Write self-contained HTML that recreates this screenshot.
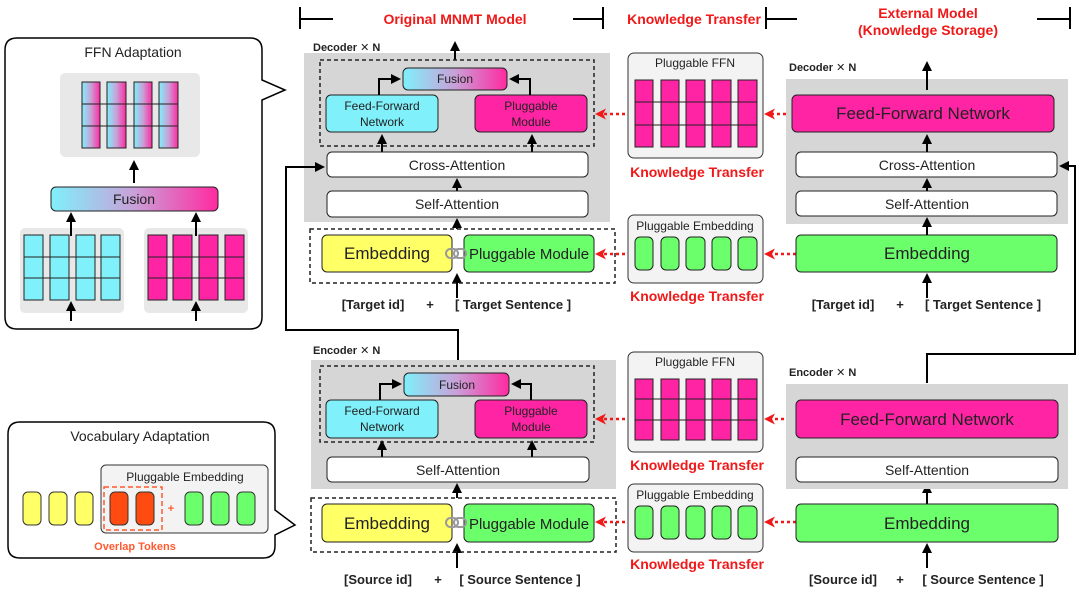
<!DOCTYPE html>
<html><head><meta charset="utf-8"><style>
html,body{margin:0;padding:0;background:#fff;}
svg{display:block;font-family:"Liberation Sans","DejaVu Sans",sans-serif;}
.t{font-size:14px;fill:#222;text-anchor:middle;}
.s{font-size:12px;fill:#222;text-anchor:middle;}
.b{font-size:13px;font-weight:bold;fill:#222;text-anchor:middle;}
.r{font-size:14px;font-weight:bold;fill:#f01818;text-anchor:middle;}
.lab{font-size:11px;font-weight:bold;fill:#222;}
.big{font-size:17px;fill:#222;text-anchor:middle;}
</style></head><body>
<svg width="1080" height="589" viewBox="0 0 1080 589" xmlns="http://www.w3.org/2000/svg">
<defs>
<marker id="a" markerWidth="10" markerHeight="10" refX="7" refY="5" orient="auto" markerUnits="userSpaceOnUse"><path d="M0,0 L10,5 L0,10 z" fill="#000"/></marker>
<marker id="ra" markerWidth="11" markerHeight="11" refX="8" refY="5.5" orient="auto" markerUnits="userSpaceOnUse"><path d="M0,0 L11,5.5 L0,11 L3,5.5 z" fill="#f01818"/></marker>
<linearGradient id="g" x1="0" x2="1"><stop offset="0" stop-color="#7ff0fb"/><stop offset="0.5" stop-color="#c9a0d8"/><stop offset="1" stop-color="#ff2aa0"/></linearGradient>
</defs>

<g stroke="#000" stroke-width="2" fill="none">
<path d="M300,7V29M300,19H333"/><path d="M573,19H603M603,7V29"/>
<path d="M766,7V29M766,19H797"/><path d="M1037,19H1070M1070,7V29"/>
</g>
<text class="r" x="455" y="24">Original MNMT Model</text>
<text class="r" x="694" y="24">Knowledge Transfer</text>
<text class="r" x="928" y="18">External Model</text>
<text class="r" x="928" y="35">(Knowledge Storage)</text>

<path d="M17,38 H250 Q262,38 262,50 V80 L285,90 L262,100 V317 Q262,329 250,329 H17 Q5,329 5,317 V50 Q5,38 17,38 z" fill="#fff" stroke="#000" stroke-width="1.5"/>
<text class="t" x="133" y="57" style="font-size:14px">FFN Adaptation</text>
<rect x="60" y="73" width="140" height="84" rx="5" fill="#e8e8e8"/>
<g stroke="#222" stroke-width="1">
<rect x="82" y="82" width="18" height="66" fill="url(#g)"/><rect x="107" y="82" width="19" height="66" fill="url(#g)"/><rect x="134" y="82" width="18" height="66" fill="url(#g)"/><rect x="159" y="82" width="19" height="66" fill="url(#g)"/>
<path d="M82,104H178M82,126H178" />
</g>
<path d="M134,183V163" stroke="#000" stroke-width="2" marker-end="url(#a)"/>
<rect x="51" y="187" width="167" height="24" rx="5" fill="url(#g)" stroke="#222"/>
<text class="t" x="134" y="204">Fusion</text>
<rect x="20" y="228" width="104" height="85" rx="5" fill="#e8e8e8"/>
<rect x="144" y="228" width="104" height="85" rx="5" fill="#e8e8e8"/>
<g stroke="#222" stroke-width="1" fill="#80f0fb">
<rect x="24" y="235" width="19" height="65"/><rect x="50" y="235" width="19" height="65"/><rect x="76" y="235" width="19" height="65"/><rect x="101" y="235" width="19" height="65"/>
<path d="M24,257H120M24,278H120"/>
</g>
<g stroke="#222" stroke-width="1" fill="#ff24a4">
<rect x="148" y="235" width="19" height="65"/><rect x="173" y="235" width="19" height="65"/><rect x="199" y="235" width="19" height="65"/><rect x="225" y="235" width="19" height="65"/>
<path d="M148,257H244M148,278H244"/>
</g>
<g stroke="#000" stroke-width="2">
<path d="M71,236V215" marker-end="url(#a)"/><path d="M196,236V215" marker-end="url(#a)"/>
<path d="M71,321V304" marker-end="url(#a)"/><path d="M196,321V304" marker-end="url(#a)"/>
</g>

<path d="M20,422 H263 Q275,422 275,434 V510 L295,525 L275,535 V546 Q275,558 263,558 H20 Q8,558 8,546 V434 Q8,422 20,422 z" fill="#fff" stroke="#000" stroke-width="1.5"/>
<text class="t" x="140" y="441" style="font-size:14px">Vocabulary Adaptation</text>
<rect x="101" y="465" width="167" height="68" rx="5" fill="#f3f3f3" stroke="#333"/>
<text class="s" x="185" y="481">Pluggable Embedding</text>
<g stroke="#333" stroke-width="1">
<rect x="23" y="492" width="18" height="33" rx="5" fill="#ffff66"/><rect x="49" y="492" width="18" height="33" rx="5" fill="#ffff66"/><rect x="75" y="492" width="18" height="33" rx="5" fill="#ffff66"/>
<rect x="110" y="492" width="18" height="33" rx="5" fill="#ff4a10"/><rect x="136" y="492" width="18" height="33" rx="5" fill="#ff4a10"/>
<rect x="185" y="492" width="18" height="33" rx="5" fill="#6cff6c"/><rect x="211" y="492" width="18" height="33" rx="5" fill="#6cff6c"/><rect x="237" y="492" width="18" height="33" rx="5" fill="#6cff6c"/>
</g>
<rect x="104" y="487" width="58" height="43" fill="none" stroke="#ff5a30" stroke-width="1.5" stroke-dasharray="5,3"/>
<text x="171" y="512" style="font-size:11px;font-weight:bold;fill:#ff5a30" text-anchor="middle">+</text>
<text x="135" y="550" style="font-size:11px;font-weight:bold;fill:#ff5a30" text-anchor="middle">Overlap Tokens</text>

<text class="lab" x="313" y="51">Decoder ✕ N</text>
<rect x="304" y="53" width="306" height="169" fill="#d6d6d6"/>
<path d="M455,60V44" stroke="#000" stroke-width="2" marker-end="url(#a)"/>
<rect x="320" y="60" width="274" height="86" fill="none" stroke="#222" stroke-width="1.5" stroke-dasharray="4,3"/>
<rect x="403" y="68" width="104" height="22" rx="5" fill="url(#g)" stroke="#222"/>
<text class="s" x="455" y="83">Fusion</text>
<rect x="326" y="95" width="112" height="37" rx="5" fill="#80f0fb" stroke="#222"/>
<text class="s" x="382" y="110">Feed-Forward</text><text class="s" x="382" y="126">Network</text>
<rect x="475" y="95" width="112" height="37" rx="5" fill="#ff24a4" stroke="#222"/>
<text class="s" x="531" y="110">Pluggable</text><text class="s" x="531" y="126">Module</text>
<g stroke="#000" stroke-width="2" fill="none">
<path d="M379,95V79H398" marker-end="url(#a)"/><path d="M530,95V79H512" marker-end="url(#a)"/>
<path d="M382,152V137" marker-end="url(#a)"/><path d="M532,152V137" marker-end="url(#a)"/>
<path d="M457,191V181" marker-end="url(#a)"/>
<path d="M457,229V221" marker-end="url(#a)"/>
<path d="M457,298V276" marker-end="url(#a)"/>
<path d="M458,373V330H286V167H322" marker-end="url(#a)"/>
</g>
<rect x="327" y="152" width="261" height="25" rx="5" fill="#fff" stroke="#222"/>
<text class="t" x="457" y="170">Cross-Attention</text>
<rect x="327" y="191" width="261" height="26" rx="5" fill="#fff" stroke="#222"/>
<text class="t" x="457" y="209">Self-Attention</text>
<rect x="310" y="229" width="305" height="54" fill="none" stroke="#222" stroke-width="1.5" stroke-dasharray="4,3"/>
<rect x="322" y="235" width="130" height="37" rx="5" fill="#ffff66" stroke="#222"/>
<text class="big" x="387" y="259">Embedding</text>
<rect x="464" y="235" width="130" height="37" rx="5" fill="#6cff6c" stroke="#222"/>
<text class="big" x="529" y="259" style="font-size:15px">Pluggable Module</text>
<g fill="none" stroke="#999" stroke-width="2"><rect x="446" y="249" width="12" height="9" rx="4.5"/><rect x="454" y="249" width="12" height="9" rx="4.5"/></g>
<text class="b" x="373" y="309">[Target id]</text><text class="b" x="430" y="309">+</text><text class="b" x="513" y="309">[ Target Sentence ]</text>

<text class="lab" x="313" y="354">Encoder ✕ N</text>
<rect x="311" y="360" width="305" height="129" fill="#d6d6d6"/>
<rect x="320" y="366" width="274" height="76" fill="none" stroke="#222" stroke-width="1.5" stroke-dasharray="4,3"/>
<rect x="404" y="373" width="105" height="23" rx="5" fill="url(#g)" stroke="#222"/>
<text class="s" x="457" y="389">Fusion</text>
<rect x="326" y="400" width="112" height="38" rx="5" fill="#80f0fb" stroke="#222"/>
<text class="s" x="382" y="415">Feed-Forward</text><text class="s" x="382" y="431">Network</text>
<rect x="475" y="400" width="112" height="38" rx="5" fill="#ff24a4" stroke="#222"/>
<text class="s" x="531" y="415">Pluggable</text><text class="s" x="531" y="431">Module</text>
<g stroke="#000" stroke-width="2" fill="none">
<path d="M380,400V384H399" marker-end="url(#a)"/><path d="M531,400V384H514" marker-end="url(#a)"/>
<path d="M382,457V443" marker-end="url(#a)"/><path d="M532,457V443" marker-end="url(#a)"/>
<path d="M457,498V486" marker-end="url(#a)"/>
<path d="M457,568V546" marker-end="url(#a)"/>
</g>
<rect x="327" y="457" width="262" height="25" rx="5" fill="#fff" stroke="#222"/>
<text class="t" x="458" y="475">Self-Attention</text>
<rect x="311" y="498" width="305" height="54" fill="none" stroke="#222" stroke-width="1.5" stroke-dasharray="4,3"/>
<rect x="322" y="504" width="130" height="38" rx="5" fill="#ffff66" stroke="#222"/>
<text class="big" x="387" y="529">Embedding</text>
<rect x="464" y="504" width="130" height="38" rx="5" fill="#6cff6c" stroke="#222"/>
<text class="big" x="529" y="529" style="font-size:15px">Pluggable Module</text>
<g fill="none" stroke="#999" stroke-width="2"><rect x="446" y="518" width="12" height="9" rx="4.5"/><rect x="454" y="518" width="12" height="9" rx="4.5"/></g>
<text class="b" x="378" y="584">[Source id]</text><text class="b" x="438" y="584">+</text><text class="b" x="520" y="584">[ Source Sentence ]</text>

<g>
<rect x="628" y="53" width="135" height="105" rx="6" fill="#f3f3f3" stroke="#333"/>
<text class="s" x="695" y="67">Pluggable FFN</text>
<g stroke="#222" fill="#ff24a4"><rect x="635" y="80" width="18" height="67"/><rect x="661" y="80" width="18" height="67"/><rect x="686" y="80" width="19" height="67"/><rect x="712" y="80" width="19" height="67"/><rect x="738" y="80" width="19" height="67"/><path d="M635,102H757M635,125H757"/></g>
<text class="r" x="697" y="177">Knowledge Transfer</text>
<rect x="628" y="215" width="135" height="68" rx="6" fill="#f3f3f3" stroke="#333"/>
<text class="s" x="695" y="230">Pluggable Embedding</text>
<g stroke="#222" fill="#6cff6c"><rect x="635" y="237" width="18" height="33" rx="5"/><rect x="661" y="237" width="18" height="33" rx="5"/><rect x="686" y="237" width="19" height="33" rx="5"/><rect x="712" y="237" width="19" height="33" rx="5"/><rect x="738" y="237" width="19" height="33" rx="5"/></g>
<text class="r" x="697" y="301">Knowledge Transfer</text>

<rect x="628" y="352" width="135" height="100" rx="6" fill="#f3f3f3" stroke="#333"/>
<text class="s" x="695" y="366">Pluggable FFN</text>
<g stroke="#222" fill="#ff24a4"><rect x="635" y="379" width="18" height="61"/><rect x="661" y="379" width="18" height="61"/><rect x="686" y="379" width="19" height="61"/><rect x="712" y="379" width="19" height="61"/><rect x="738" y="379" width="19" height="61"/><path d="M635,399H757M635,420H757"/></g>
<text class="r" x="697" y="470">Knowledge Transfer</text>
<rect x="628" y="484" width="135" height="68" rx="6" fill="#f3f3f3" stroke="#333"/>
<text class="s" x="695" y="499">Pluggable Embedding</text>
<g stroke="#222" fill="#6cff6c"><rect x="635" y="506" width="18" height="33" rx="5"/><rect x="661" y="506" width="18" height="33" rx="5"/><rect x="686" y="506" width="19" height="33" rx="5"/><rect x="712" y="506" width="19" height="33" rx="5"/><rect x="738" y="506" width="19" height="33" rx="5"/></g>
<text class="r" x="697" y="569">Knowledge Transfer</text>
</g>
<g stroke="#f01818" stroke-width="2.5" stroke-dasharray="3,3" fill="none">
<path d="M625,114H598" marker-end="url(#ra)"/><path d="M625,254H598" marker-end="url(#ra)"/>
<path d="M625,419H598" marker-end="url(#ra)"/><path d="M625,522H598" marker-end="url(#ra)"/>
<path d="M792,114H767" marker-end="url(#ra)"/><path d="M796,254H767" marker-end="url(#ra)"/>
<path d="M796,419H767" marker-end="url(#ra)"/><path d="M796,522H767" marker-end="url(#ra)"/>
</g>

<text class="lab" x="789" y="71">Decoder ✕ N</text>
<rect x="786" y="79" width="282" height="145" fill="#d6d6d6"/>
<rect x="792" y="95" width="262" height="37" rx="5" fill="#ff24a4" stroke="#222"/>
<text class="big" x="923" y="119">Feed-Forward Network</text>
<rect x="796" y="152" width="261" height="25" rx="5" fill="#fff" stroke="#222"/>
<text class="t" x="927" y="170">Cross-Attention</text>
<rect x="796" y="191" width="261" height="25" rx="5" fill="#fff" stroke="#222"/>
<text class="t" x="927" y="209">Self-Attention</text>
<rect x="796" y="235" width="261" height="37" rx="5" fill="#6cff6c" stroke="#222"/>
<text class="big" x="927" y="259">Embedding</text>
<g stroke="#000" stroke-width="2" fill="none">
<path d="M927,90V64" marker-end="url(#a)"/>
<path d="M927,152V137" marker-end="url(#a)"/>
<path d="M927,191V181" marker-end="url(#a)"/>
<path d="M927,235V220" marker-end="url(#a)"/>
<path d="M927,298V276" marker-end="url(#a)"/>
<path d="M927,383V354H1075V166H1062" marker-end="url(#a)"/>
<path d="M927,457V442" marker-end="url(#a)"/>
<path d="M927,504V486" marker-end="url(#a)"/>
<path d="M927,568V546" marker-end="url(#a)"/>
</g>
<text class="b" x="843" y="309">[Target id]</text><text class="b" x="900" y="309">+</text><text class="b" x="983" y="309">[ Target Sentence ]</text>

<text class="lab" x="789" y="376">Encoder ✕ N</text>
<rect x="786" y="384" width="282" height="105" fill="#d6d6d6"/>
<rect x="796" y="400" width="262" height="38" rx="5" fill="#ff24a4" stroke="#222"/>
<text class="big" x="927" y="425">Feed-Forward Network</text>
<rect x="796" y="457" width="262" height="25" rx="5" fill="#fff" stroke="#222"/>
<text class="t" x="927" y="475">Self-Attention</text>
<rect x="796" y="504" width="262" height="38" rx="5" fill="#6cff6c" stroke="#222"/>
<text class="big" x="927" y="529">Embedding</text>
<text class="b" x="843" y="584">[Source id]</text><text class="b" x="900" y="584">+</text><text class="b" x="983" y="584">[ Source Sentence ]</text>
</svg>
</body></html>
